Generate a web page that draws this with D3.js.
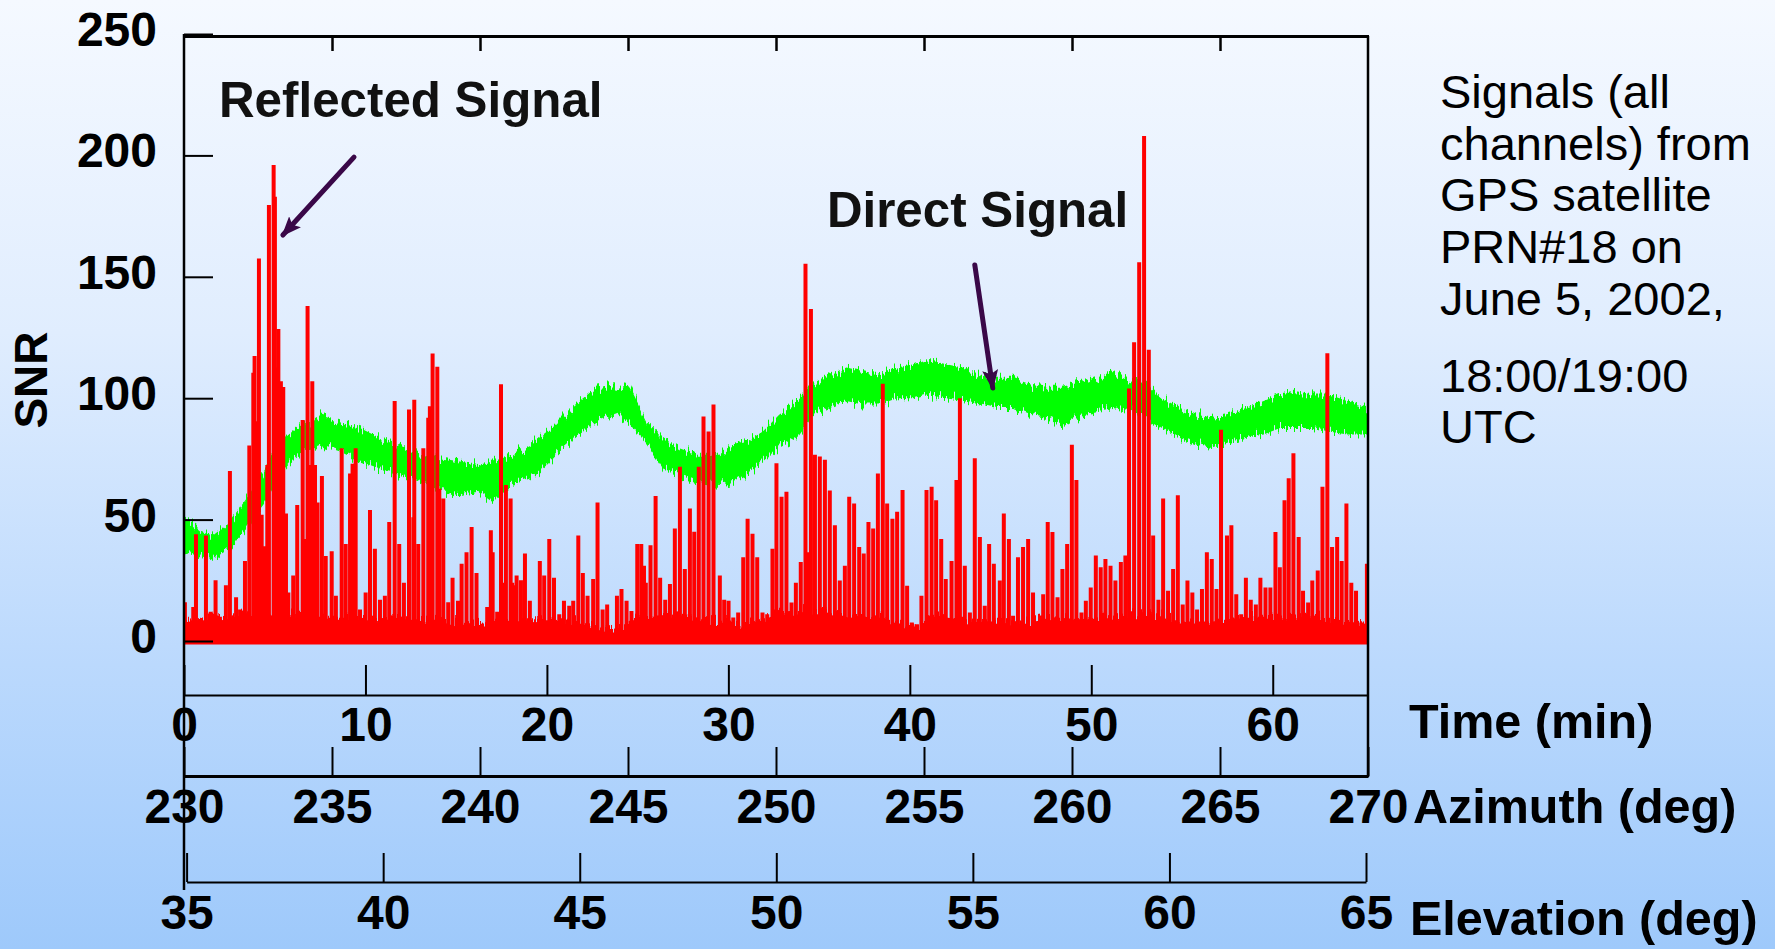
<!DOCTYPE html>
<html>
<head>
<meta charset="utf-8">
<script src="https://cdn.jsdelivr.net/npm/d3@7"></script>
<style>
  html, body { margin: 0; padding: 0; overflow: hidden; background: #f5f9ff; }
  svg { display: block; }
  text { font-family: "Liberation Sans", Arial, Helvetica, sans-serif; }
</style>
</head>
<body>
<svg id="chart" width="1775" height="949"></svg>
<script>
// ---------------------------------------------------------------
// GPS PRN#18 pass, June 5 2002 — SNR of direct and reflected signals
// ---------------------------------------------------------------

// Axis ticks
const snrTicks = [0, 50, 100, 150, 200, 250];
const timeTicks = [0, 10, 20, 30, 40, 50, 60];
const azimuthTicks = [230, 235, 240, 245, 250, 255, 260, 265, 270];
const elevationTicks = [35, 40, 45, 50, 55, 60, 65];
const passMinutes = 65.25;

// Direct signal: envelope of the noisy SNR band (minutes, SNR high, SNR low)
const directTime = [0.0, 0.9, 1.6, 2.5, 3.45, 4.4, 5.3, 6.2, 7.5, 8.6, 9.7, 10.8, 11.9, 13.0, 14.1, 15.2, 16.2, 17.0,
  18.1, 19.1, 20.0, 20.9, 21.8, 22.7, 23.7, 24.6, 25.5, 26.4, 27.3, 28.3, 29.5, 30.3, 31.0, 31.9, 32.8, 33.8, 34.7,
  35.6, 36.5, 37.4, 38.3, 39.3, 40.2, 40.9, 42.0, 42.9, 43.9, 44.8, 45.7, 46.6, 47.5, 48.4, 49.3, 50.3, 51.2, 52.1,
  53.0, 53.9, 54.9, 55.8, 56.7, 57.6, 58.5, 59.5, 60.4, 61.3, 62.2, 63.1, 64.1, 65.3];
const directHigh = [50.4, 45, 43.5, 49, 58.7, 69.8, 82, 87.7, 93, 90.5, 87.7, 83.6, 80.8, 78, 75.3, 73.9, 72.5, 73.9,
  76.7, 80.8, 86.3, 93.2, 98.8, 104.3, 105.7, 104.3, 90.5, 83.6, 79.4, 76.7, 76.7, 80.8, 82, 86.3, 93.2, 98.8, 105.7,
  109.8, 112.6, 111.2, 109.8, 112.6, 114, 116, 114, 112.6, 109.8, 108.4, 108.4, 105.7, 104.3, 104.3, 106, 108.4, 111.2, 108.4,
  105.7, 100, 96, 93.2, 91.9, 93.2, 96, 98.8, 101.5, 102.9, 101.5, 101.5, 98.8, 96];
const directLow = [38, 36, 33.8, 38, 46.3, 56, 68.4, 76.7, 80.8, 78, 73.9, 71, 68.4, 65.6, 61.5, 60, 61.5, 57.3,
  64.2, 67, 72.5, 79.4, 85, 90.5, 93.2, 89, 80.8, 71, 68.4, 65.6, 64.2, 65.6, 68.4, 73.9, 80, 83.6, 93.2,
  96, 98.8, 97.4, 97.4, 100, 100, 101.5, 100, 98.8, 97.4, 96, 96, 93.2, 91.9, 89, 93, 94.6, 96, 94.6,
  91.9, 87.7, 83.6, 80.8, 79.4, 82, 83.6, 85, 87.7, 87.7, 87.7, 86.3, 85, 85];

// Reflected signal: low-level floor (minutes, SNR)
const reflectedFloor = [[0, 6], [1.6, 8], [3.5, 9], [5.3, 10], [7.1, 8], [9, 8], [10.8, 7], [12.6, 8], [14.5, 6],
  [16.3, 5], [18.1, 7], [20, 7], [21.8, 6], [23.2, 3], [24.2, 4], [24.8, 8], [27.3, 9], [29.5, 6], [31, 5],
  [32.8, 10], [34.6, 11], [36.5, 9], [38.4, 8], [39.9, 4], [40.6, 4], [41.1, 9], [43.1, 7], [45.7, 6], [47.5, 8],
  [49.4, 7], [51.9, 9], [53.4, 9], [54.9, 6], [56.7, 6], [58.5, 8], [60.3, 8], [62.2, 9], [64.1, 6], [65.25, 5]];

// Reflected signal: multipath spikes (minutes, peak SNR)
const reflectedSpikes = [
  [0.05, 16], [0.51, 14], [0.66, 44], [1.21, 43.5], [1.47, 12], [1.74, 25], [1.98, 10], [2.31, 23], [2.53, 70],
  [2.87, 18], [3.09, 13], [3.36, 33], [3.60, 80.5], [3.82, 110.5], [3.89, 117.4], [4.00, 90.5], [4.13, 157.5],
  [4.28, 52], [4.41, 39], [4.59, 72.5], [4.68, 179.6], [4.94, 196], [5.01, 183], [5.11, 112.6], [5.20, 128.5],
  [5.34, 107], [5.47, 104.6], [5.62, 52.5], [5.75, 20], [6.02, 27], [6.24, 56], [6.54, 91], [6.67, 42], [6.81, 138],
  [6.94, 72.5], [7.07, 107], [7.22, 72.5], [7.36, 57], [7.60, 68], [7.81, 35], [8.14, 37], [8.37, 18.6], [8.69, 79.4],
  [8.91, 40], [9.15, 69], [9.29, 73], [9.46, 79.4], [9.70, 13], [10.01, 20], [10.25, 54], [10.52, 38], [10.80, 17],
  [11.07, 18.6], [11.31, 49], [11.61, 98.8], [11.86, 40], [12.12, 24], [12.40, 95.3], [12.64, 51], [12.69, 99.4],
  [12.91, 40], [13.19, 79.4], [13.46, 91.9], [13.55, 96.7], [13.70, 118.4], [13.96, 113], [14.07, 62.8], [14.29, 58.7],
  [14.56, 16], [14.80, 26], [15.10, 16.6], [15.30, 31.8], [15.57, 36.6], [15.85, 47], [16.12, 28],
  [16.49, 6], [16.71, 14], [16.91, 45.6], [17.01, 36.6], [17.26, 12], [17.47, 105.7], [17.59, 24], [17.74, 64.2],
  [18.00, 58.7], [18.09, 24], [18.26, 23], [18.33, 27], [18.57, 25], [18.79, 36], [19.06, 16.6], [19.34, 7.6],
  [19.61, 33], [19.85, 27], [20.13, 42], [20.39, 26], [20.68, 11], [20.94, 16.6], [21.23, 14.5], [21.45, 16.6],
  [21.73, 43.5], [21.98, 28], [22.24, 18.6], [22.55, 25.5], [22.79, 57], [23.07, 13], [23.32, 15], [23.56, 3.5],
  [23.86, 18.6], [24.11, 21.4], [24.39, 16.6], [24.66, 12.4], [24.98, 40], [25.20, 40], [25.35, 31], [25.45, 24],
  [25.71, 39.4], [25.99, 59.7], [26.24, 26], [26.52, 17], [26.78, 23.5], [27.05, 46.3], [27.33, 71.8], [27.60, 29.7],
  [27.88, 54.6], [28.12, 45], [28.37, 71.8], [28.63, 92.5], [28.91, 86.3], [29.18, 97.4], [29.53, 27], [29.77, 17],
  [30.01, 16.6], [30.27, 9.7], [30.54, 11.7], [30.82, 34.5], [31.06, 50.4], [31.33, 44.2], [31.59, 34.5], [31.88, 11.7],
  [32.14, 11], [32.43, 38], [32.65, 73.2],
  [32.93, 59.4], [33.20, 61.5], [33.48, 15.9], [33.72, 24], [33.99, 32.5], [34.25, 155.4], [34.40, 36.6], [34.55, 136.7],
  [34.77, 76.7], [35.04, 76], [35.32, 74.6], [35.59, 62], [35.87, 47.7], [36.14, 24.9], [36.42, 31], [36.66, 59.4],
  [36.93, 56.6], [37.21, 38.7], [37.46, 36], [37.72, 49], [37.98, 46.3], [38.24, 69], [38.51, 106], [38.75, 56.6],
  [39.04, 50.4], [39.30, 53.2], [39.60, 62.2], [39.85, 22.8], [40.11, 7.6], [40.37, 6.9], [40.64, 18.6], [40.92, 62.2],
  [41.20, 63.5], [41.45, 58], [41.73, 42], [41.98, 25.5], [42.30, 33], [42.57, 66.3], [42.76, 100], [43.03, 31],
  [43.31, 11.7], [43.58, 75.3], [43.86, 42.8], [44.13, 14.5], [44.37, 40], [44.63, 31.8], [44.96, 24.9], [45.18, 52.5],
  [45.46, 42], [45.69, 10.4], [45.96, 34.5], [46.24, 38.7], [46.52, 42], [46.79, 20], [47.07, 6.9], [47.35, 19.3],
  [47.60, 49], [47.86, 44.9], [48.14, 18], [48.41, 29.7], [48.67, 40], [48.93, 80.8], [49.18, 66.3],
  [49.46, 11.7], [49.70, 16.6], [49.97, 22], [50.25, 35.2], [50.52, 30.4], [50.78, 33.8], [51.06, 31], [51.33, 24.9],
  [51.63, 32.5], [51.88, 35.2], [52.08, 104], [52.36, 123], [52.64, 156], [52.91, 208], [53.17, 120], [53.41, 43.5],
  [53.70, 17], [53.96, 58.7], [54.23, 20.7], [54.51, 29.7], [54.77, 60], [55.04, 15], [55.30, 24.9], [55.57, 20],
  [55.83, 13], [56.10, 21.4], [56.37, 36.6], [56.64, 33.8], [56.90, 21.4], [57.15, 87], [57.48, 43.5], [57.72, 47.7],
  [57.99, 19.3], [58.26, 11], [58.52, 26], [58.79, 17], [59.07, 15], [59.32, 26], [59.60, 22], [59.87, 22],
  [60.15, 44.9], [60.39, 30.4], [60.65, 58], [60.88, 67], [61.14, 77.3], [61.43, 42.8], [61.67, 20.7], [61.95, 15.9],
  [62.18, 24.9], [62.48, 29], [62.74, 63.5], [63.01, 118.5], [63.27, 38.7], [63.55, 42.8], [63.80, 33], [64.06, 56.6],
  [64.33, 24], [64.59, 20.7], [64.88, 7.6], [65.19, 31.8]
];

// Annotation text
const noteLines = [
  ["Signals (all", "channels) from", "GPS satellite", "PRN#18 on", "June 5, 2002,"],
  ["18:00/19:00", "UTC"]
];

// ---------------------------------------------------------------
const W = 1775, H = 949;
const svg = d3.select("#chart");
const defs = svg.append("defs");

// page background: pale-to-sky-blue vertical gradient
const grad = defs.append("linearGradient").attr("id", "bg")
  .attr("x1", 0).attr("y1", 0).attr("x2", 0).attr("y2", 1);
[[0, "#f5f9ff"], [0.35, "#e0edfe"], [0.7, "#bbd9fd"], [1, "#9ec9fb"]]
  .forEach(([o, c]) => grad.append("stop").attr("offset", o).attr("stop-color", c));
svg.append("rect").attr("width", W).attr("height", H).attr("fill", "url(#bg)");

// scales
const x = d3.scaleLinear().domain([0, passMinutes]).range([184, 1368]);
const az = d3.scaleLinear().domain([230, 270]).range([184, 1368]);
const el = d3.scaleLinear().domain([35, 65]).range([186.6, 1366]);
const y = d3.scaleLinear().domain([0, 250]).range([641, 34]);

// plot clip (bottom edge just under the zero line)
defs.append("clipPath").attr("id", "plotClip")
  .append("rect").attr("x", x(0)).attr("y", 36)
  .attr("width", x(passMinutes) - x(0) + 2).attr("height", y(0) + 3.5 - 36);

// ragged edges for the noisy traces
function raggedFilter(id, freq, scale, seed) {
  const f = defs.append("filter").attr("id", id)
    .attr("x", "-1%").attr("y", "-30%").attr("width", "102%").attr("height", "160%");
  f.append("feTurbulence").attr("type", "fractalNoise").attr("baseFrequency", freq)
    .attr("numOctaves", 2).attr("seed", seed).attr("result", "n");
  f.append("feColorMatrix").attr("in", "n").attr("type", "matrix")
    .attr("values", "1 0 0 0 0  0 0 0 0 0.5  0 0 0 0 0  0 0 0 0 1").attr("result", "m");
  f.append("feDisplacementMap").attr("in", "SourceGraphic").attr("in2", "m")
    .attr("scale", scale).attr("xChannelSelector", "G").attr("yChannelSelector", "R");
}
raggedFilter("roughBand", "0.5 0.03", 22, 7);
raggedFilter("roughFloor", "0.6 0.05", 22, 3);

const plot = svg.append("g").attr("clip-path", "url(#plotClip)");

// direct signal band
const band = directTime.map((t, i) => ({ t, hi: directHigh[i], lo: directLow[i] }));
plot.append("path")
  .datum(band)
  .attr("fill", "#00ff00")
  .attr("filter", "url(#roughBand)")
  .attr("d", d3.area().x(d => x(d.t)).y0(d => y(d.lo)).y1(d => y(d.hi)));

// reflected signal floor
plot.append("g").attr("filter", "url(#roughFloor)")
  .append("path")
  .datum(reflectedFloor)
  .attr("fill", "#ff0000")
  .attr("d", d3.area().x(d => x(d[0])).y0(y(0) + 12).y1(d => y(d[1] + 2)));

// reflected signal spikes
plot.append("g").selectAll("line")
  .data(reflectedSpikes)
  .join("line")
  .attr("x1", d => x(d[0])).attr("x2", d => x(d[0]))
  .attr("y1", y(0) + 2).attr("y2", d => y(d[1]))
  .attr("stroke", "#ff0000")
  .attr("stroke-width", 4);

// ---------------------------------------------------------------
// frame and axes
const ink = "#000";
const frame = svg.append("g").attr("stroke", ink).attr("fill", "none");
frame.append("line").attr("x1", x(0)).attr("x2", x(0)).attr("y1", 34).attr("y2", 890).attr("stroke-width", 2.5);
frame.append("line").attr("x1", x(0)).attr("x2", x(passMinutes) + 1).attr("y1", 36.5).attr("y2", 36.5).attr("stroke-width", 3);
frame.append("line").attr("x1", x(passMinutes)).attr("x2", x(passMinutes)).attr("y1", 36).attr("y2", 777).attr("stroke-width", 2.5);

function styleAxis(g, fontSize) {
  g.attr("color", ink);
  g.selectAll(".tick line").attr("stroke-width", 2);
  g.selectAll(".tick text")
    .attr("font-family", '"Liberation Sans", Arial, sans-serif')
    .attr("font-weight", "bold")
    .attr("font-size", fontSize);
}

// SNR axis (ticks inward)
const gy = svg.append("g").attr("transform", `translate(${x(0)},0)`)
  .call(d3.axisLeft(y).tickValues(snrTicks).tickSize(-29).tickSizeOuter(0).tickPadding(27));
gy.select(".domain").remove();
styleAxis(gy, 48);
gy.selectAll(".tick text").attr("dy", "0.24em");

// azimuth ticks along the top of the frame
const gTop = svg.append("g").attr("transform", "translate(0,36)")
  .call(d3.axisTop(az).tickValues(azimuthTicks.slice(1, -1)).tickSize(-15).tickFormat(""));
gTop.select(".domain").remove();
styleAxis(gTop, 48);
gTop.selectAll(".tick line").attr("stroke-width", 2.5);

// time axis
const gx = svg.append("g").attr("transform", "translate(0,695)")
  .call(d3.axisBottom(x).tickValues(timeTicks).tickSize(-30).tickSizeOuter(0).tickPadding(12));
gx.select(".domain").attr("stroke-width", 2);
styleAxis(gx, 48);

// azimuth axis
const gAz = svg.append("g").attr("transform", "translate(0,776)")
  .call(d3.axisBottom(az).tickValues(azimuthTicks).tickSize(-29).tickSizeOuter(0).tickPadding(13));
gAz.select(".domain").attr("stroke-width", 3);
styleAxis(gAz, 48);

// elevation axis
const gEl = svg.append("g").attr("transform", "translate(0,882)")
  .call(d3.axisBottom(el).tickValues(elevationTicks).tickSize(-29).tickSizeOuter(0).tickPadding(13));
gEl.select(".domain").attr("stroke-width", 2);
styleAxis(gEl, 48);

// axis titles
const bold = sel => sel.attr("font-weight", "bold").attr("font-size", 48.5).attr("fill", ink);
svg.append("text").attr("x", 1409).attr("y", 738).text("Time (min)").call(bold);
svg.append("text").attr("x", 1413).attr("y", 823).text("Azimuth (deg)").call(bold);
svg.append("text").attr("x", 1410).attr("y", 935).text("Elevation (deg)").call(bold);
svg.append("text").attr("transform", "translate(47,380) rotate(-90)")
  .attr("text-anchor", "middle").text("SNR").call(bold).attr("font-size", 46);

// ---------------------------------------------------------------
// call-outs
svg.append("text").attr("x", x(1.93)).attr("y", y(215.8)).text("Reflected Signal").call(bold)
  .attr("font-size", 49.3).attr("fill", "#111");
svg.append("text").attr("x", x(35.43)).attr("y", y(170.5)).text("Direct Signal").call(bold)
  .attr("font-size", 49.3).attr("fill", "#111");

const arrowColor = "#3a0848";
defs.append("marker").attr("id", "head")
  .attr("markerUnits", "userSpaceOnUse")
  .attr("viewBox", "0 0 20 16").attr("refX", 18).attr("refY", 8)
  .attr("markerWidth", 20).attr("markerHeight", 16).attr("orient", "auto")
  .append("path").attr("d", "M0,0 L20,8 L0,16 L4,8 Z").attr("fill", arrowColor);

const callouts = [
  { from: [9.37, 199.3], to: [5.45, 167.2] },
  { from: [43.58, 154.9], to: [44.57, 104.2] }
];
svg.append("g").selectAll("line").data(callouts).join("line")
  .attr("x1", d => x(d.from[0])).attr("y1", d => y(d.from[1]))
  .attr("x2", d => x(d.to[0])).attr("y2", d => y(d.to[1]))
  .attr("stroke", arrowColor).attr("stroke-width", 5).attr("stroke-linecap", "round")
  .attr("marker-end", "url(#head)");

// satellite / date note
const note = svg.append("text").attr("font-size", 47).attr("fill", ink);
let baseline = 108;
noteLines.forEach((para, p) => {
  if (p > 0) baseline += 25;
  para.forEach(line => {
    note.append("tspan").attr("x", 1440).attr("y", baseline).text(line);
    baseline += 51.7;
  });
});
</script>
</body>
</html>
